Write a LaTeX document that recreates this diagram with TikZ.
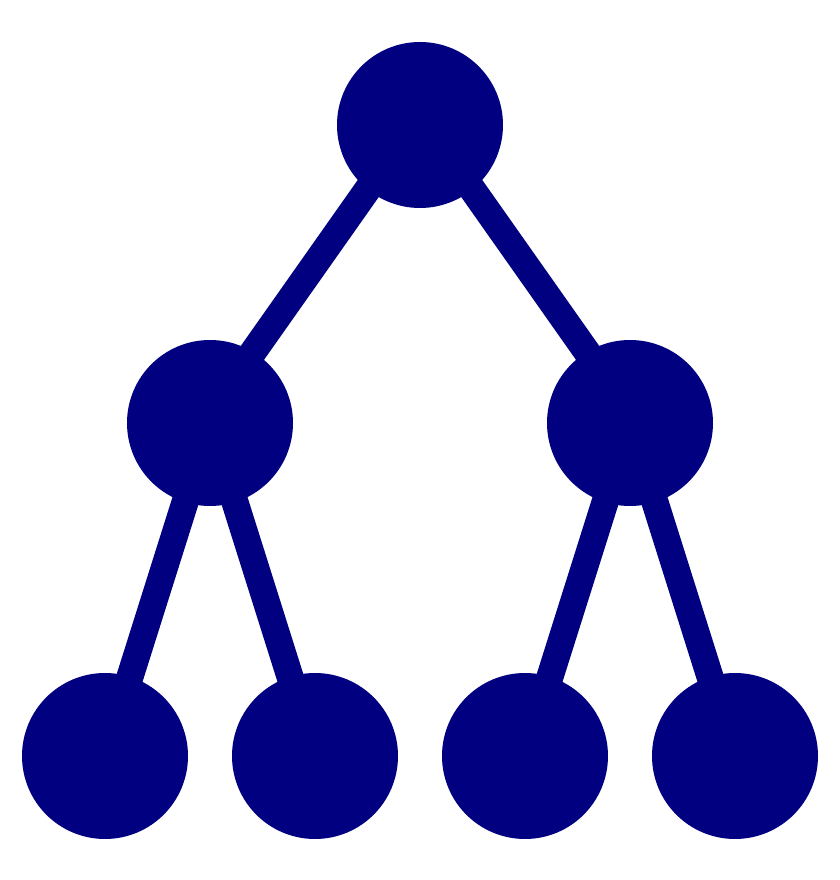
\documentclass[tikz,border=0pt]{standalone}
\usepackage{tikz}
\usetikzlibrary{positioning}
\definecolor{nv}{RGB}{0,0,128}
\tikzset{noeud/.style={circle,fill=nv,inner sep=0,minimum size=1.66cm},
         arete/.style={draw=nv,line width=0.27cm}}

\begin{document}
\begin{tikzpicture}
\useasboundingbox(0,0)rectangle(8.4,8.8);
\node[noeud](R)at(4.2,7.55){};
\node[noeud](A)at(2.1,4.57){};
\node[noeud](B)at(6.3,4.57){};
\node[noeud](A1)at(1.05,1.24){};
\node[noeud](A2)at(3.15,1.24){};
\node[noeud](B1)at(5.25,1.24){};
\node[noeud](B2)at(7.35,1.24){};
\draw[arete]([xshift=-0.07cm]R.center)--([xshift=-0.07cm]A.center);
\draw[arete]([xshift=0.07cm]R.center)--([xshift=0.07cm]B.center);
\draw[arete](A.center)--(A1.center);
\draw[arete](A.center)--(A2.center);
\draw[arete](B.center)--(B1.center);
\draw[arete](B.center)--(B2.center);
\end{tikzpicture}
\end{document}
